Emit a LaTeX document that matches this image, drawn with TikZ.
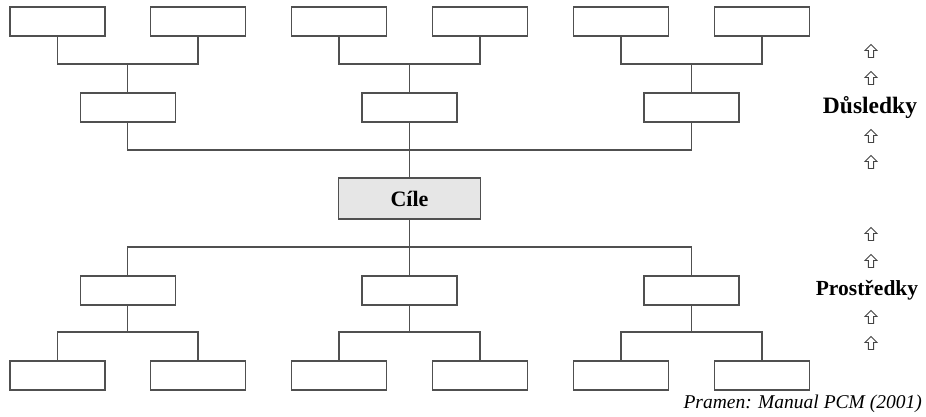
\documentclass[tikz,border=0pt]{standalone}
\usepackage{fontspec}
\setmainfont{Liberation Serif}
\begin{document}
\begin{tikzpicture}[x=1pt,y=-1pt,
  box/.style={draw=linegray, line width=1.4pt, minimum width=95pt, minimum height=29pt, inner sep=0pt},
  goalbox/.style={draw=linegray, line width=1.4pt, fill=boxgray, minimum width=142pt, minimum height=41pt, inner sep=0pt, font=\fontsize{22}{24}\selectfont\bfseries},
  conn/.style={draw=linegray, line width=1.4pt},
  hollowup/.pic={\draw[arrowgray, line width=0.9pt, line join=miter]
     (0,-6.5) -- (6,-0.5) -- (2.6,-0.5) -- (2.6,6.5) -- (-2.6,6.5) -- (-2.6,-0.5) -- (-6,-0.5) -- cycle;},
  sidelabel/.style={font=\fontsize{21.5}{24}\selectfont\bfseries, inner sep=0pt}
]
\definecolor{linegray}{HTML}{505050}
\definecolor{boxgray}{HTML}{E6E6E6}
\definecolor{arrowgray}{HTML}{444444}
\useasboundingbox (0,0) rectangle (926,416);

% top leaves
\foreach \i/\x in {1/57.5,2/198,3/339,4/480,5/621,6/762} {
  \node[box] (t\i) at (\x,21.5) {};
}
% top mids
\foreach \i/\x in {1/127.75,2/409.5,3/691.5} {
  \node[box] (tm\i) at (\x,107.5) {};
}
% bottom mids
\foreach \i/\x in {1/127.75,2/409.5,3/691.5} {
  \node[box] (bm\i) at (\x,290.5) {};
}
% bottom leaves
\foreach \i/\x in {1/57.5,2/198,3/339,4/480,5/621,6/762} {
  \node[box] (b\i) at (\x,375.5) {};
}
\node[goalbox] (goal) at (409.5,198.5) {Cíle};

% junction coordinates
\coordinate (tj1) at (127.75,64);
\coordinate (tj2) at (409.5,64);
\coordinate (tj3) at (691.5,64);
\coordinate (tjc) at (409.5,150);
\coordinate (bjc) at (409.5,247);
\coordinate (bj1) at (127.75,332);
\coordinate (bj2) at (409.5,332);
\coordinate (bj3) at (691.5,332);

% top connectors
\draw[conn] (t1.south) |- (tj1) -| (t2.south);
\draw[conn] (tj1) -- (tm1.north);
\draw[conn] (t3.south) |- (tj2) -| (t4.south);
\draw[conn] (tj2) -- (tm2.north);
\draw[conn] (t5.south) |- (tj3) -| (t6.south);
\draw[conn] (tj3) -- (tm3.north);
\draw[conn] (tm1.south) |- (tjc) -| (tm3.south);
\draw[conn] (tm2.south) -- (goal.north);

% bottom connectors
\draw[conn] (bm1.north) |- (bjc) -| (bm3.north);
\draw[conn] (goal.south) -- (bm2.north);
\draw[conn] (bm1.south) -- (bj1);
\draw[conn] (b1.north) |- (bj1) -| (b2.north);
\draw[conn] (bm2.south) -- (bj2);
\draw[conn] (b3.north) |- (bj2) -| (b4.north);
\draw[conn] (bm3.south) -- (bj3);
\draw[conn] (b5.north) |- (bj3) -| (b6.north);

% side column
\pic (a1) at (871,51) {hollowup};
\pic (a2) at (871,78) {hollowup};
\node[sidelabel, font=\fontsize{23.5}{26}\selectfont\bfseries] (dus) at (870,108) {Důsledky};
\pic (a3) at (871,136) {hollowup};
\pic (a4) at (871,162) {hollowup};
\pic (a5) at (871,234) {hollowup};
\pic (a6) at (871,261) {hollowup};
\node[sidelabel] (pro) at (867,290) {Prostředky};
\pic (a7) at (871,317) {hollowup};
\pic (a8) at (871,343) {hollowup};

\node[anchor=base east, inner sep=0pt, font=\fontsize{19.5}{22}\selectfont\itshape] (src) at (922,408) {Pramen: Manual PCM (2001)};
\end{tikzpicture}
\end{document}
